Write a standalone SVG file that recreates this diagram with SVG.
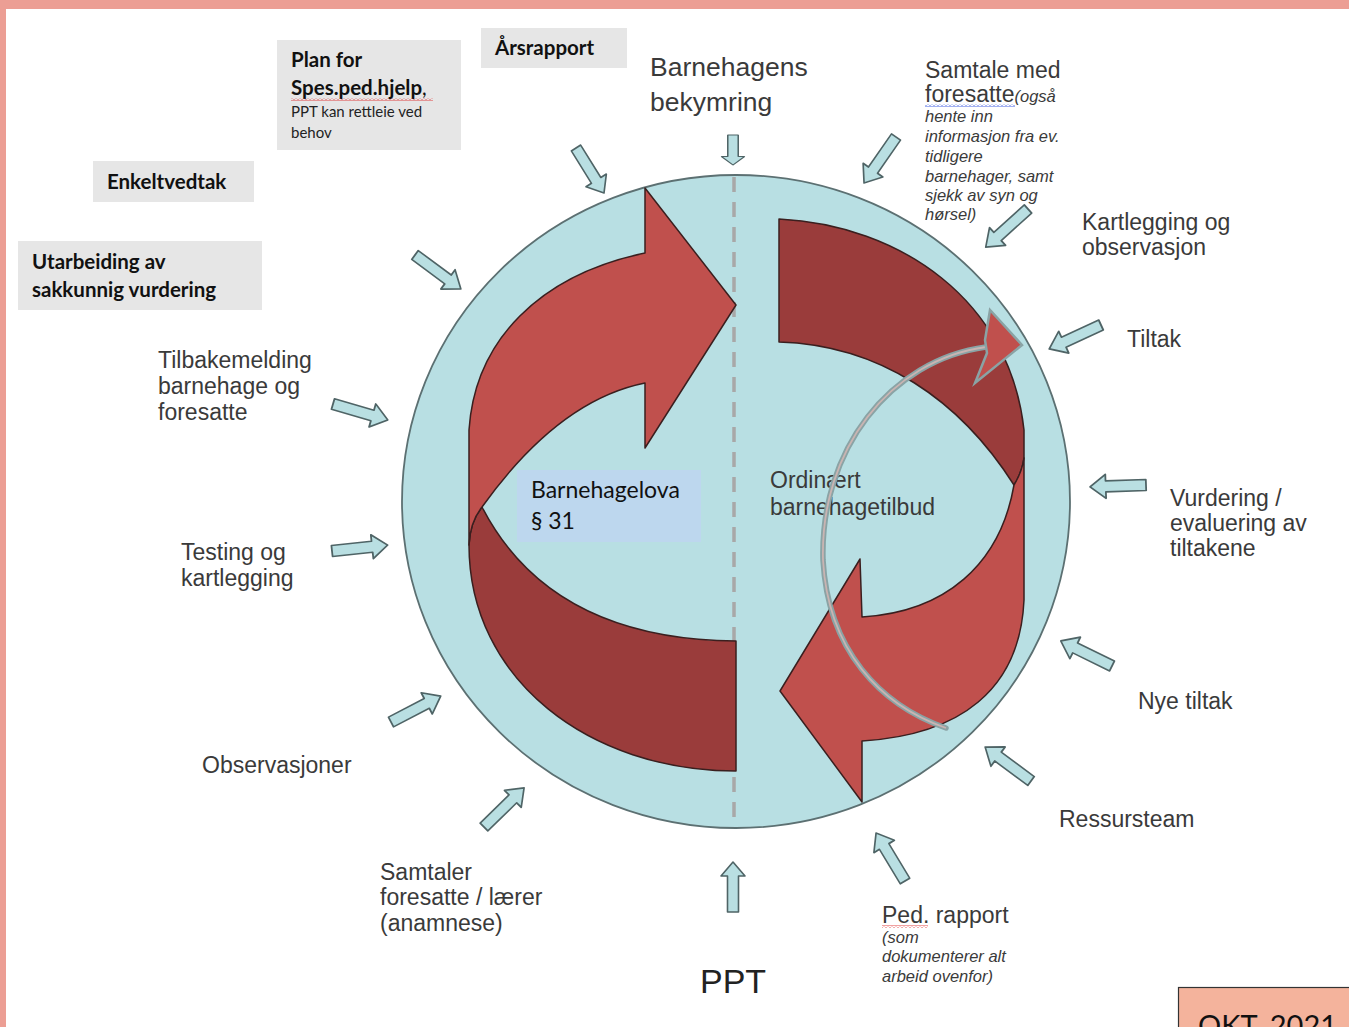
<svg xmlns="http://www.w3.org/2000/svg" xmlns:xlink="http://www.w3.org/1999/xlink" width="1349" height="1027" viewBox="0 0 1349 1027">
<style>
.lbl{font-family:"Liberation Sans",Arial,sans-serif;font-size:23px;fill:#3a3a3a}
.it{font-family:"Liberation Sans",Arial,sans-serif;font-size:16.5px;font-style:italic;fill:#3a3a3a}
.cal{font-family:Lato,"Liberation Sans",sans-serif;fill:#111}
.b{font-weight:bold}
.box{fill:#E6E6E6}
.ba{fill:#B9DFE2;stroke:#4f6466;stroke-width:1.6;stroke-linejoin:round}
.dk{fill:#9A3C3B;stroke:#3a1f1f;stroke-width:1.5;stroke-linejoin:round}
.lt{fill:#C0504D;stroke:#3a1f1f;stroke-width:1.5;stroke-linejoin:round}
</style>
<defs>
<path id="barrow" d="M0,-5.5 H36 V-12 L50,0 L36,12 V5.5 H0 Z"/>
<pattern id="wr" width="4" height="3" patternUnits="userSpaceOnUse"><path d="M0,2.5 L2,0.5 L4,2.5" fill="none" stroke="#e03030" stroke-width="0.9"/></pattern>
<pattern id="wb" width="4" height="3" patternUnits="userSpaceOnUse"><path d="M0,2.5 L2,0.5 L4,2.5" fill="none" stroke="#3050e0" stroke-width="0.9"/></pattern>
</defs>
<rect width="1349" height="1027" fill="#fff"/>
<rect x="0" y="0" width="1349" height="9" fill="#EC9E94"/>
<rect x="0" y="0" width="6" height="1027" fill="#EC9E94"/>

<g id="circle">
<ellipse cx="736" cy="501.5" rx="334" ry="326.5" fill="#B8DFE3" stroke="#5c7072" stroke-width="1.8"/>
<line x1="734" y1="177" x2="734" y2="827" stroke="#a8a8a8" stroke-width="3.5" stroke-dasharray="15,10"/>
</g>

<g id="left-cycle">
<path class="dk" d="M482,507 Q470,522 469,545 C469,680 590,771 736,771 L736,641 C620,640 530,600 482,507 Z"/>
<path class="lt" d="M469,545 L469,430 C475,340 540,275 645,253 L645,188 L736,305 L645,448 L645,383 C585,395 530,440 482,507 Q470,522 469,545 Z"/>
</g>
<g id="right-cycle">
<path class="dk" d="M779,219 C900,225 1010,300 1024,430 L1024,458 Q1022,472 1014,485 C960,400 880,345 779,342 Z"/>
<path class="lt" d="M1014,485 Q1022,472 1024,458 L1024,600 C1020,690 960,735 862,741 L862,802 L780,691 L860,559 L862,617 C945,612 1000,565 1014,485 Z"/>
</g>

<g id="barnehagelova">
<rect x="517" y="470" width="184" height="72" fill="#BDD7EE"/>
<text class="cal" x="531" y="498" style="font-size:23px">Barnehagelova</text>
<text class="cal" x="531" y="529" style="font-size:23px">§ 31</text>
</g>
<g id="ordinaert">
<text class="lbl" x="770" y="488">Ordinært</text>
<text class="lbl" x="770" y="515">barnehagetilbud</text>
</g>

<g id="curved-arrow">
<path d="M946,728 C880,705 828,650 823,560 C820,450 890,360 986,347" fill="none" stroke="#8aa3a5" stroke-width="5.5" stroke-linecap="round"/>
<path d="M946,728 C880,705 828,650 823,560 C820,450 890,360 986,347" fill="none" stroke="#c9b4b2" stroke-width="1.8"/>
<polygon points="985,340 990,310 1022,345 975,383 987,353" fill="#C0504D" stroke="#8aa3a5" stroke-width="2.5" stroke-linejoin="miter"/>
</g>

<g id="connectors">
<use xlink:href="#barrow" class="ba" transform="translate(733,135) rotate(90) scale(0.6,0.95)"/>
<use xlink:href="#barrow" class="ba" transform="translate(576,148) rotate(58.1) scale(1.06,1)"/>
<use xlink:href="#barrow" class="ba" transform="translate(415,255) rotate(36.5) scale(1.14,1)"/>
<use xlink:href="#barrow" class="ba" transform="translate(333,404) rotate(16.2) scale(1.14,1)"/>
<use xlink:href="#barrow" class="ba" transform="translate(332,551) rotate(-6.1) scale(1.12,1)"/>
<use xlink:href="#barrow" class="ba" transform="translate(391,722) rotate(-27.5) scale(1.12,1)"/>
<use xlink:href="#barrow" class="ba" transform="translate(484,827) rotate(-44.3) scale(1.12,1)"/>
<use xlink:href="#barrow" class="ba" transform="translate(733,912) rotate(-90) scale(1,1)"/>
<use xlink:href="#barrow" class="ba" transform="translate(905,881) rotate(-121.1) scale(1.12,1)"/>
<use xlink:href="#barrow" class="ba" transform="translate(1031,781) rotate(-143.5) scale(1.14,1)"/>
<use xlink:href="#barrow" class="ba" transform="translate(1112,666) rotate(-153.9) scale(1.14,1)"/>
<use xlink:href="#barrow" class="ba" transform="translate(1146,485) rotate(178) scale(1.12,1)"/>
<use xlink:href="#barrow" class="ba" transform="translate(1101,325) rotate(155.2) scale(1.14,1)"/>
<use xlink:href="#barrow" class="ba" transform="translate(1028,209) rotate(137.9) scale(1.14,1)"/>
<use xlink:href="#barrow" class="ba" transform="translate(896,137) rotate(124.8) scale(1.12,1)"/>
</g>

<g id="plan">
<rect class="box" x="277" y="40" width="184" height="110"/>
<text class="cal b" x="291" y="67" style="font-size:20.5px">Plan for</text>
<text class="cal b" x="291" y="95" style="font-size:20.5px">Spes.ped.hjelp<tspan font-weight="normal">,</tspan></text>
<rect x="291" y="98" width="142" height="3" fill="url(#wr)"/>
<text class="cal" x="291" y="117" style="font-size:15px;fill:#222">PPT kan rettleie ved</text>
<text class="cal" x="291" y="138" style="font-size:15px;fill:#222">behov</text>
</g>
<g id="arsrapport">
<rect class="box" x="481" y="28" width="146" height="40"/>
<text class="cal b" x="495" y="55" style="font-size:20.5px">Årsrapport</text>
</g>
<g id="enkeltvedtak">
<rect class="box" x="93" y="161" width="161" height="41"/>
<text class="cal b" x="107" y="189" style="font-size:20.5px">Enkeltvedtak</text>
</g>
<g id="utarbeiding">
<rect class="box" x="18" y="241" width="244" height="69"/>
<text class="cal b" x="32" y="269" style="font-size:20.5px">Utarbeiding av</text>
<text class="cal b" x="32" y="297" style="font-size:20.5px">sakkunnig vurdering</text>
</g>

<g id="bekymring">
<text class="lbl" x="650" y="76" style="font-size:26.5px">Barnehagens</text>
<text class="lbl" x="650" y="111" style="font-size:26.5px">bekymring</text>
</g>
<g id="samtale">
<text class="lbl" x="925" y="78">Samtale med</text>
<text class="lbl" x="925" y="102">foresatte<tspan class="it">(også</tspan></text>
<rect x="925" y="104" width="90" height="3" fill="url(#wb)"/>
<text class="it" x="925" y="122">hente inn</text>
<text class="it" x="925" y="142">informasjon fra ev.</text>
<text class="it" x="925" y="162">tidligere</text>
<text class="it" x="925" y="182">barnehager, samt</text>
<text class="it" x="925" y="201">sjekk av syn og</text>
<text class="it" x="925" y="220">hørsel)</text>
</g>
<g id="kartlegging">
<text class="lbl" x="1082" y="230">Kartlegging og</text>
<text class="lbl" x="1082" y="255">observasjon</text>
</g>
<g id="tiltak"><text class="lbl" x="1127" y="347">Tiltak</text></g>
<g id="vurdering">
<text class="lbl" x="1170" y="506">Vurdering /</text>
<text class="lbl" x="1170" y="531">evaluering av</text>
<text class="lbl" x="1170" y="556">tiltakene</text>
</g>
<g id="nye"><text class="lbl" x="1138" y="709">Nye tiltak</text></g>
<g id="ressursteam"><text class="lbl" x="1059" y="827">Ressursteam</text></g>
<g id="pedrapport">
<text class="lbl" x="882" y="923">Ped. rapport</text>
<rect x="882" y="925" width="46" height="3" fill="url(#wr)"/>
<text class="it" x="882" y="943">(som</text>
<text class="it" x="882" y="962">dokumenterer alt</text>
<text class="it" x="882" y="982">arbeid ovenfor)</text>
</g>
<g id="ppt"><text class="lbl" x="700" y="993" style="font-size:34px;fill:#222">PPT</text></g>
<g id="samtaler">
<text class="lbl" x="380" y="880">Samtaler</text>
<text class="lbl" x="380" y="905">foresatte / lærer</text>
<text class="lbl" x="380" y="931">(anamnese)</text>
</g>
<g id="observasjoner"><text class="lbl" x="202" y="773">Observasjoner</text></g>
<g id="testing">
<text class="lbl" x="181" y="560">Testing og</text>
<text class="lbl" x="181" y="586">kartlegging</text>
</g>
<g id="tilbakemelding">
<text class="lbl" x="158" y="368">Tilbakemelding</text>
<text class="lbl" x="158" y="394">barnehage og</text>
<text class="lbl" x="158" y="420">foresatte</text>
</g>
<g id="okt">
<rect x="1178.5" y="987.5" width="175" height="50" fill="#F4B39C" stroke="#333" stroke-width="1.2"/>
<text class="cal" x="1198" y="1036" style="font-size:29px;fill:#111">OKT. 2021</text>
</g>
</svg>
